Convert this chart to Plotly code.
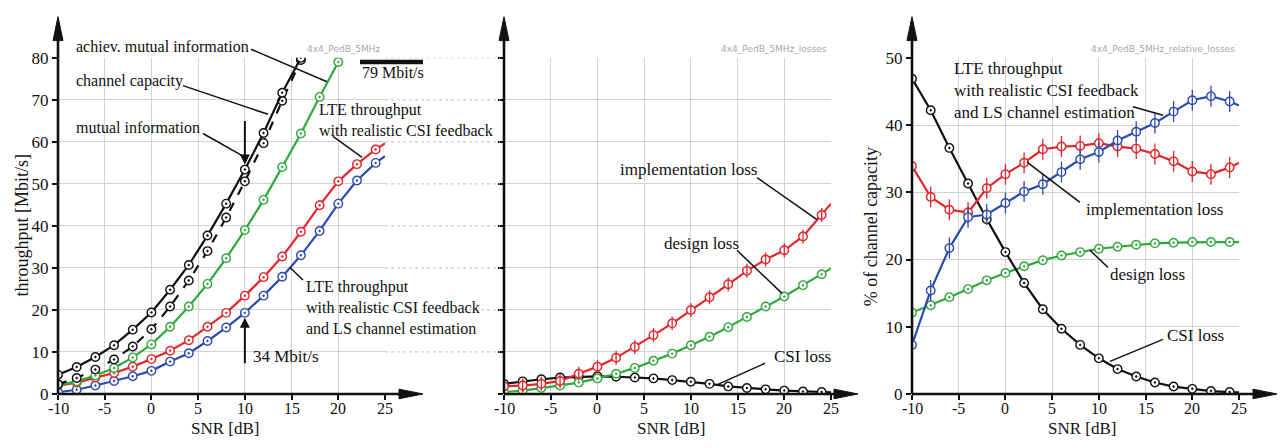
import plotly.graph_objects as go

W, H = 1282, 448

# ---------------- data ----------------
SNR = [-10, -8, -6, -4, -2, 0, 2, 4, 6, 8, 10, 12, 14, 16, 18, 20, 22, 24]
SNR_END = 25

# panel 1: throughput [Mbit/s]
channel_capacity = [4.6, 6.4, 8.8, 11.6, 15.3, 19.4, 24.8, 30.7, 37.7, 45.3, 53.4, 62.1, 71.7, 80.0]
mutual_information = [2.3, 3.8, 5.8, 8.2, 11.3, 15.4, 20.8, 27.0, 34.0, 42.0, 50.6, 59.7, 69.8, 79.5]
achiev_mutual_info = [2.1, 3.0, 4.4, 6.2, 8.7, 11.8, 16.0, 20.8, 26.2, 32.3, 39.0, 46.2, 54.0, 62.0, 70.7, 79.0]
lte_csi = [2.0, 2.7, 3.9, 5.0, 6.5, 8.3, 10.3, 12.8, 16.0, 19.3, 23.4, 27.8, 32.7, 38.6, 44.9, 50.6, 54.7, 58.2, 59.6]
lte_csi_ls = [0.4, 1.0, 2.0, 3.1, 4.2, 5.5, 7.7, 9.7, 12.6, 15.8, 19.3, 23.4, 27.9, 33.0, 38.8, 45.3, 50.8, 55.0, 56.6]
PEAK_RATE = 79
GAP_SNR = 10

# panel 2: losses [Mbit/s]
impl_loss = [1.8, 2.0, 2.4, 3.1, 4.8, 6.5, 8.6, 11.2, 14.0, 16.8, 20.0, 23.0, 26.1, 29.3, 32.0, 34.2, 37.5, 42.6, 45.3]
design_loss = [0.45, 0.8, 1.4, 2.0, 2.7, 3.7, 4.8, 6.2, 7.9, 9.6, 11.6, 13.6, 15.9, 18.3, 20.8, 23.2, 25.9, 28.5, 29.9]
csi_loss = [2.4, 3.0, 3.5, 3.9, 4.1, 4.2, 4.1, 3.9, 3.7, 3.3, 2.9, 2.4, 1.8, 1.4, 1.1, 0.8, 0.6, 0.45, 0.4]

# panel 3: relative losses [% of channel capacity]
csi_rel = [46.9, 42.2, 36.6, 31.3, 26.0, 21.1, 16.5, 12.6, 9.7, 7.3, 5.3, 3.7, 2.6, 1.7, 1.1, 0.76, 0.43, 0.28, 0.25]
design_rel = [12.1, 13.2, 14.4, 15.6, 16.9, 18.0, 19.0, 19.9, 20.6, 21.1, 21.6, 21.9, 22.2, 22.4, 22.5, 22.6, 22.6, 22.6, 22.6]
impl_rel = [33.9, 29.3, 27.4, 27.0, 30.6, 32.7, 34.4, 36.4, 36.8, 36.9, 37.3, 36.8, 36.5, 35.7, 34.6, 33.1, 32.7, 33.7, 34.4]
lte_rel = [7.3, 15.4, 21.7, 26.3, 26.7, 28.4, 30.1, 31.2, 33.0, 34.9, 36.0, 37.7, 39.0, 40.3, 42.0, 43.7, 44.3, 43.5, 42.9]

X_TICKS = [-10, -5, 0, 5, 10, 15, 20, 25]

# ---------------- style ----------------
RED = "#e3262b"
BLUE = "#2b4bb0"
GREEN = "#2fa83a"
BLACK = "#111111"
GRID = "#d2d2d2"
SERIF = "Liberation Serif, Times New Roman, serif"


def px(x):
    return x / W


def py(y):
    return 1 - y / H


Y_DOM = [py(402), py(51)]
X_DOMS = [[px(58), px(385)], [px(504), px(831)], [px(912), px(1239)]]

fig = go.Figure()
SNR_FULL = SNR + [SNR_END]


def add_curve(ax, xs, ys, color, dash="solid", mk="circle-dot", bar=0):
    xa, ya = ("x", "y") if ax == 1 else ("x%d" % ax, "y%d" % ax)
    fig.add_trace(go.Scatter(x=xs, y=ys, mode="lines", xaxis=xa, yaxis=ya,
                             line=dict(color=color, width=2.2, dash=dash), hoverinfo="skip"))
    n = min(len(xs), len(SNR))
    fig.add_trace(go.Scatter(x=xs[:n], y=ys[:n], mode="markers", xaxis=xa, yaxis=ya,
                             marker=dict(symbol=mk, size=8.5, color="white",
                                         line=dict(color=color, width=1.4))))
    if bar:
        fig.add_trace(go.Scatter(x=xs[:n], y=ys[:n], mode="markers", xaxis=xa, yaxis=ya,
                                 marker=dict(symbol="line-ns-open", size=bar, color=color,
                                             line=dict(color=color, width=1.3))))


# panel 1
add_curve(1, SNR_FULL, lte_csi_ls, BLUE)
add_curve(1, SNR_FULL, lte_csi, RED)
add_curve(1, SNR[:len(achiev_mutual_info)], achiev_mutual_info, GREEN)
add_curve(1, SNR[:len(mutual_information)], mutual_information, BLACK, dash="dash")
add_curve(1, SNR[:len(channel_capacity)], channel_capacity, BLACK)
# panel 2
add_curve(2, SNR_FULL, csi_loss, BLACK)
add_curve(2, SNR_FULL, design_loss, GREEN)
add_curve(2, SNR_FULL, impl_loss, RED, mk="circle", bar=10)
# panel 3
add_curve(3, SNR_FULL, design_rel, GREEN)
add_curve(3, SNR_FULL, csi_rel, BLACK)
add_curve(3, SNR_FULL, impl_rel, RED, mk="circle", bar=15)
add_curve(3, SNR_FULL, lte_rel, BLUE, mk="circle", bar=15)

axis_common = dict(showgrid=True, gridcolor=GRID, gridwidth=1, zeroline=False, showline=False,
                   ticks="outside", ticklen=5, tickcolor=BLACK, tickwidth=1.5,
                   tickfont=dict(family=SERIF, size=17, color=BLACK))

layout = dict(width=W, height=H, margin=dict(l=0, r=0, t=0, b=0),
              paper_bgcolor="white", plot_bgcolor="white", showlegend=False)
y_ranges = [[0, 80], [0, 80], [0, 50]]
for i in range(3):
    sx = "" if i == 0 else str(i + 1)
    layout["xaxis" + sx] = dict(axis_common, domain=X_DOMS[i], range=[-10, 25], anchor="y" + sx,
                                tickvals=X_TICKS, showticklabels=False)
    layout["yaxis" + sx] = dict(axis_common, domain=Y_DOM, range=y_ranges[i], anchor="x" + sx,
                                dtick=10, showticklabels=(i != 1))
fig.update_layout(**layout)

shapes = []
annotations = []

# axis lines with arrowheads
x_tips = [423, 858, 1277]
for i in range(3):
    x0 = X_DOMS[i][0]
    yb = Y_DOM[0]
    # y axis
    shapes.append(dict(type="line", xref="paper", yref="paper", x0=x0, x1=x0, y0=yb, y1=py(28),
                       line=dict(color=BLACK, width=2.6)))
    shapes.append(dict(type="path", xref="paper", yref="paper",
                       path="M %f,%f L %f,%f L %f,%f Z" % (x0, py(8), x0 - px(5), py(33), x0 + px(5), py(33)),
                       fillcolor=BLACK, line=dict(color=BLACK, width=1)))
    # x axis
    xt = px(x_tips[i])
    shapes.append(dict(type="line", xref="paper", yref="paper", x0=x0, x1=xt - px(18), y0=yb, y1=yb,
                       line=dict(color=BLACK, width=2.6)))
    shapes.append(dict(type="path", xref="paper", yref="paper",
                       path="M %f,%f L %f,%f L %f,%f Z" % (xt, yb, xt - px(24), yb + 5 / H, xt - px(24), yb - 5 / H),
                       fillcolor=BLACK, line=dict(color=BLACK, width=1)))

# dotted grid continuation between panel 1 and panel 2
for v in range(10, 81, 10):
    shapes.append(dict(type="line", xref="paper", yref="y", x0=px(385), x1=px(500), y0=v, y1=v,
                       line=dict(color="#c4c4c4", width=1, dash="dot")))

# 79 Mbit/s bar
shapes.append(dict(type="line", xref="paper", yref="y", x0=px(360), x1=px(423), y0=PEAK_RATE, y1=PEAK_RATE,
                   line=dict(color=BLACK, width=4.5)))

# leader lines
leaders = [
    ((251, 42), (327, 76)), ((183, 80), (268, 110)), ((203, 130), (247, 156)),
    ((333, 133), (362, 155)), ((303, 283), (290, 270)),
    ((757, 176), (817, 220)), ((737, 252), (782, 297)), ((765, 370), (718, 392)),
    ((1133, 102), (1163, 111)), ((1080, 202), (1027, 160)), ((1108, 270), (1090, 252)),
    ((1163, 345), (1110, 368)),
]
for (a, b) in leaders:
    shapes.append(dict(type="line", xref="paper", yref="paper", x0=px(a[0]), y0=py(a[1]),
                       x1=px(b[0]), y1=py(b[1]), line=dict(color=BLACK, width=1.5)))


def txt(x, y, s, size=17, anchor="left", color=BLACK, family=SERIF, angle=0):
    annotations.append(dict(xref="paper", yref="paper", x=px(x), y=py(y), text=s, showarrow=False,
                            xanchor=anchor, yanchor="middle", align="left", textangle=angle,
                            font=dict(family=family, size=size, color=color)))


txt(74, 39, "achiev. mutual information", 16)
txt(74, 75, "channel capacity", 16)
txt(74, 124, "mutual information", 16)
txt(317, 116, "LTE throughput<br>with realistic CSI feedback", 16)
txt(304, 312, "LTE throughput<br>with realistic CSI feedback<br>and LS channel estimation", 16)
txt(251, 363, "34 Mbit/s", 17)
txt(360, 66, "79 Mbit/s", 16)
txt(618, 168, "implementation loss")
txt(662, 245, "design loss")
txt(772, 363, "CSI loss")
txt(952, 85, "LTE throughput<br>with realistic CSI feedback<br>and LS channel estimation")
txt(1084, 209, "implementation loss")
txt(1108, 277, "design loss")
txt(1165, 341, "CSI loss")

# small grey labels
txt(383, 42, "4x4_PedB_5MHz", 9, anchor="right", color="#a8a8a8", family="DejaVu Sans")
txt(829, 42, "4x4_PedB_5MHz_losses", 9, anchor="right", color="#a8a8a8", family="DejaVu Sans")
txt(1237, 42, "4x4_PedB_5MHz_relative_losses", 9, anchor="right", color="#a8a8a8", family="DejaVu Sans")

# x tick labels and axis titles
for i, cx in enumerate([225, 671, 1082]):
    xr = "x" if i == 0 else "x%d" % (i + 1)
    for t in X_TICKS:
        annotations.append(dict(xref=xr, yref="paper", x=t, y=py(406), text=str(t),
                                showarrow=False, xanchor="center", yanchor="top",
                                font=dict(family=SERIF, size=16, color=BLACK)))
    annotations.append(dict(xref="paper", yref="paper", x=px(cx), y=py(450.5), text="SNR [dB]",
                            showarrow=False, xanchor="center", yanchor="bottom",
                            font=dict(family=SERIF, size=17, color=BLACK)))
txt(22, 226, "throughput [Mbit/s]", 18, anchor="center", angle=-90)
txt(871, 228, "% of channel capacity", 18, anchor="center", angle=-90)

# gap arrows at SNR = 10
cap_at = channel_capacity[SNR.index(GAP_SNR)]
ls_at = lte_csi_ls[SNR.index(GAP_SNR)]
annotations.append(dict(xref="x", yref="y", x=GAP_SNR, y=cap_at, ax=0, ay=-50, axref="pixel", ayref="pixel",
                        text="", showarrow=True, arrowhead=2, arrowsize=1, arrowwidth=2,
                        arrowcolor=BLACK, standoff=5))
annotations.append(dict(xref="x", yref="y", x=GAP_SNR, y=ls_at, ax=0, ay=52, axref="pixel", ayref="pixel",
                        text="", showarrow=True, arrowhead=2, arrowsize=1, arrowwidth=2,
                        arrowcolor=BLACK, standoff=5))

fig.update_layout(shapes=shapes, annotations=annotations)
fig.write_html("out.html")
